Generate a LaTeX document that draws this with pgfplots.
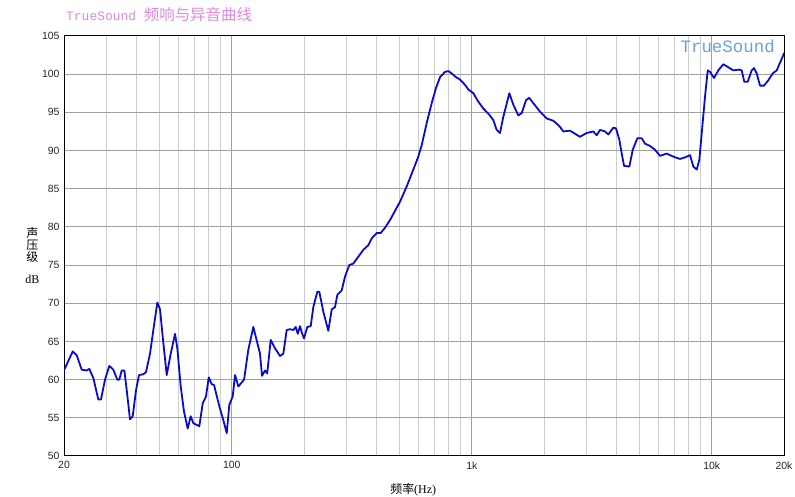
\documentclass[border=0pt]{standalone}
\usepackage{pgfplots}
\pgfplotsset{compat=1.18}
\usepackage{fontspec}
\setmainfont{Liberation Sans}
\newfontfamily\cjk{Noto Sans CJK SC}
\newfontfamily\mono{Liberation Mono}
\newfontfamily\serifl{Liberation Serif}
\definecolor{curve}{HTML}{0A0ACC}
\definecolor{titlepink}{HTML}{DD88DD}
\definecolor{wmblue}{HTML}{6AA2D8}
\definecolor{gmajor}{HTML}{A0A0A0}
\definecolor{gminor}{HTML}{CDCDCD}
\begin{document}
\begin{tikzpicture}[x=1bp,y=1bp]
\useasboundingbox (0,0) rectangle (795,497);
\begin{axis}[
  at={(64bp,41bp)}, anchor=south west,
  scale only axis, width=720bp, height=420bp,
  xmode=log, log basis x=10,
  xmin=20, xmax=20000, ymin=50, ymax=105,
  xtick={20,100,1000,10000,20000},
  xticklabels={20,100,1k,10k,20k},
  minor xtick={30,40,50,60,70,80,90,200,300,400,500,600,700,800,900,2000,3000,4000,5000,6000,7000,8000,9000},
  ytick={50,55,60,65,70,75,80,85,90,95,100,105},
  major tick length=0pt, minor tick length=0pt,
  xmajorgrids, xminorgrids, ymajorgrids,
  major grid style={gmajor, line width=1bp},
  minor grid style={gminor, line width=1bp},
  axis line style={black, line width=1bp},
  tick label style={font=\fontsize{10.5}{12}\selectfont, text=black!85},
  /pgf/number format/assume math mode=true,
  xticklabel style={yshift=-2bp},
  yticklabel style={xshift=-1bp},
  xlabel={\cjk 频率\serifl(Hz)},
  xlabel style={font=\fontsize{12}{12}\selectfont, at={(axis description cs:0.485,-0.081)}, anchor=center},
  ylabel={\cjk 声\\\cjk 压\\\cjk 级\\[9bp]\serifl dB},
  ylabel style={font=\fontsize{12}{12.5}\selectfont, align=center, rotate=-90, at={(axis description cs:-0.044,0.478)}, anchor=center},
  clip=true,
]
\addplot[curve, line width=1.8bp, line join=round] coordinates {
(20,61.3) (20.19,61.5) (21.75,63.7) (22.59,63.2) (23.70,61.3) (24.87,61.2) (25.50,61.4)
(26.50,60.2) (27.80,57.4) (28.52,57.4) (29.64,60.0) (30.89,61.8) (32.10,61.3)
(33.36,60.0) (34.00,60.0) (34.80,61.2) (35.68,61.2) (36.51,58.6) (37.67,54.8)
(38.66,55.2) (39.91,58.6) (41.08,60.6) (42.81,60.7) (43.93,61.0) (45.65,63.4)
(47.12,66.5) (48.97,70.1) (50.24,69.2) (51.56,65.6) (53.58,60.6) (55.68,63.4)
(58.02,66.0) (59.32,64.1) (61.29,59.1) (63.25,55.8) (65.54,53.6) (67.45,55.2)
(69.16,54.3) (73.26,53.9) (75.69,56.9) (78.12,57.8) (80.17,60.3) (82.51,59.4)
(84.35,59.3) (88.75,56.5) (92.22,54.7) (95.28,53.0) (97.68,56.7) (100.9,57.8)
(103.2,60.6) (106.5,59.1) (112.5,60.0) (117.2,63.9) (123.0,66.9) (131.1,63.4)
(133.7,60.5) (137.6,61.2) (140.5,60.8) (145.3,65.2) (151.4,64.1) (158.9,63.1) (164.0,63.4)
(169.4,66.5) (174.9,66.6) (180.5,66.5) (184.7,66.9) (188.3,66.0) (192.5,67.0)
(195.7,66.2) (200,65.4) (206.4,66.9) (213.3,67.0) (218.7,69.5) (227.2,71.5)
(231.6,71.5) (240.7,68.9) (252.5,66.4) (256.7,67.8) (260.9,69.2) (269.3,69.5)
(275.4,71.1) (287.2,71.7) (296.4,73.5) (308.9,75.0) (321.0,75.2) (336.8,76.1)
(353.4,77.0) (370.7,77.6) (383.0,78.5) (401.8,79.2) (417.5,79.2) (435.1,79.9)
(456.5,80.9) (502.4,83.3) (535.7,85.3) (570.7,87.5) (598.7,89.2) (618.6,90.7)
(649.0,93.6) (680.9,96.2) (709.6,98.2) (737.5,99.6) (773.7,100.3) (798.6,100.4)
(825.1,100.1) (859.9,99.6) (893.5,99.3) (937.4,98.6) (967.6,98.0) (1015,97.5)
(1065,96.4) (1117,95.5) (1183,94.7) (1229,94.0) (1270,92.7) (1311,92.3)
(1353,94.4) (1434,97.5) (1490,96.0) (1563,94.6) (1615,94.9) (1683,96.6)
(1737,96.9) (1805,96.2) (1924,95.1) (2052,94.2) (2187,93.9) (2317,93.2)
(2407,92.5) (2567,92.6) (2693,92.2) (2825,91.8) (3013,92.3) (3210,92.5)
(3316,92.0) (3423,92.7) (3592,92.5) (3707,92.1) (3889,93.0) (3991,92.9)
(4120,91.4) (4216,89.6) (4310,88.0) (4535,87.9) (4685,90.1) (4896,91.6)
(5107,91.6) (5271,90.9) (5530,90.6) (5802,90.1) (6087,89.3) (6492,89.6)
(6916,89.2) (7375,88.9) (7737,89.1) (8117,89.4) (8379,87.9) (8657,87.5)
(8876,88.8) (9083,92.3) (9375,97.1) (9621,100.5) (9833,100.3) (10218,99.5)
(10648,100.5) (11170,101.3) (11720,100.9) (12295,100.5) (13023,100.6) (13326,100.5)
(13663,99.0) (14116,99.0) (14669,100.5) (14996,100.8) (15390,100.1) (15887,98.5)
(16509,98.5) (17204,99.2) (17947,100.1) (18650,100.5) (19870,102.5) (20000,102.8)
};
\node[anchor=east, text=wmblue, font=\mono\fontsize{17.5}{17.5}\selectfont] at (axis description cs:0.992,0.975) {TrueSound};
\end{axis}
\node[anchor=west, text=titlepink, inner sep=0pt] at (66,482) {\mono\fontsize{13}{13}\selectfont TrueSound\ \cjk\fontsize{15.5}{15.5}\selectfont 频响与异音曲线};
\end{tikzpicture}
\end{document}
